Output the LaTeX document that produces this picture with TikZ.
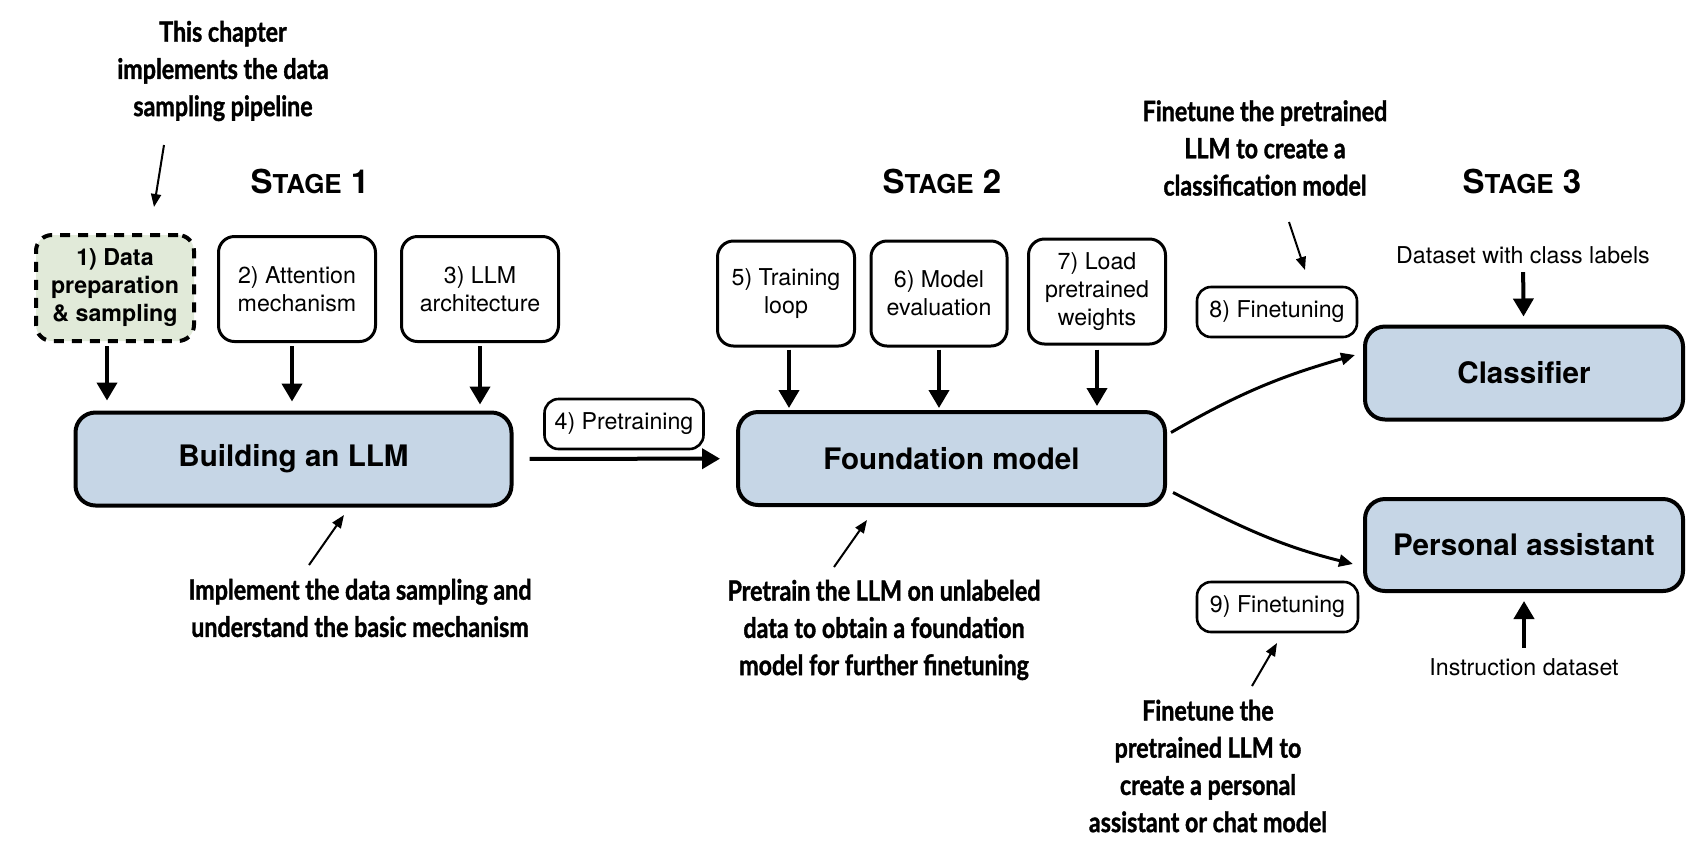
\documentclass[tikz,border=0pt]{standalone}
\usepackage{fontspec}
\setmainfont{TeX Gyre Heros}
\newfontfamily\notefont[FakeStretch=0.83,FakeBold=1.3]{Lato}
\usetikzlibrary{arrows.meta}

\definecolor{llmblue}{RGB}{198,214,230}
\definecolor{prepgreen}{RGB}{225,234,217}

\newcommand{\stagelabel}[1]{S{\fontsize{13}{20}\selectfont TAGE} #1}

\tikzset{
    inbox/.style={draw=black, line width=1.5pt, rounded corners=8pt, fill=white, align=center,
        inner sep=0pt, minimum width=78.5pt, minimum height=52.5pt, font=\fontsize{11.6}{14}\selectfont},
    prepbox/.style={inbox, fill=prepgreen, line width=2pt, dash pattern=on 5pt off 4pt,
        font=\fontsize{11.6}{14}\selectfont\bfseries},
    llmbox/.style={draw=black, line width=2pt, rounded corners=10pt, fill=llmblue,
        inner sep=0pt, minimum height=46.5pt, font=\fontsize{14.8}{18}\selectfont\bfseries},
    tagbox/.style={draw=black, line width=1.3pt, rounded corners=7pt, fill=white, inner sep=0pt,
        minimum width=79.5pt, minimum height=25pt, font=\fontsize{11.6}{14}\selectfont},
    notetext/.style={align=center, inner sep=0pt, font=\notefont\bfseries\fontsize{14}{18.6}\selectfont},
    plaintext/.style={inner sep=0pt, font=\fontsize{11.6}{14}\selectfont},
    stagetext/.style={inner sep=0pt, font=\fontsize{16.5}{20}\selectfont\bfseries},
    bigarrow/.style={line width=2pt, -{Triangle[width=10pt,length=9pt]}},
    curvearrow/.style={line width=1.5pt, -{Triangle[width=6pt,length=7pt]}},
    notearrow/.style={line width=1pt, -{Triangle[width=5pt,length=6.5pt]}}
}

\begin{document}
\begin{tikzpicture}[x=0.5pt,y=-0.5pt]
    \useasboundingbox (0,0) rectangle (1708,864);

    \node[stagetext] (stageA) at (310,181) {\stagelabel{1}};
    \node[stagetext] (stageB) at (942,181) {\stagelabel{2}};
    \node[stagetext] (stageC) at (1522,181) {\stagelabel{3}};

    \node[prepbox, minimum width=79pt, minimum height=53pt] (prep) at (115,288) {1) Data\\preparation\\\& sampling};
    \node[inbox] (attn) at (297,289) {2) Attention\\mechanism};
    \node[inbox] (arch) at (480,289) {3) LLM\\architecture};
    \node[inbox, minimum width=68.5pt] (loop) at (786,293.5) {5) Training\\loop};
    \node[inbox, minimum width=68pt] (eval) at (939,293.5) {6) Model\\evaluation};
    \node[inbox, minimum width=68.5pt] (load) at (1097,291.5) {7) Load\\pretrained\\weights};

    \node[llmbox, minimum width=218pt] (build) at (293.5,459) {Building an LLM};
    \node[llmbox, minimum width=213.5pt] (found) at (951.5,458.5) {Foundation model};
    \node[llmbox, minimum width=159pt] (classify) at (1524,373) {Classifier};
    \node[llmbox, minimum width=159pt, minimum height=46pt] (assist) at (1524,545) {Personal assistant};

    \node[tagbox] (pretrain) at (624,424) {4) Pretraining};
    \node[tagbox, minimum width=80pt] (tuneA) at (1277,312) {8) Finetuning};
    \node[tagbox, minimum width=80.5pt] (tuneB) at (1277.5,607) {9) Finetuning};

    \node[plaintext] (labels) at (1523,255) {Dataset with class labels};
    \node[plaintext] (instruct) at (1524,667) {Instruction dataset};

    \node[notetext] (chapnote) at (223,71) {This chapter\\implements the data\\sampling pipeline};
    \node[notetext] (implnote) at (360,608) {Implement the data sampling and\\understand the basic mechanism};
    \node[notetext] (prenote) at (884,630) {Pretrain the LLM on unlabeled\\data to obtain a foundation\\model for further finetuning};
    \node[notetext] (clsnote) at (1265,148) {Finetune the pretrained\\LLM to create a\\classification model};
    \node[notetext] (chatnote) at (1208,766) {Finetune the\\pretrained LLM to\\create a personal\\assistant or chat model};

    \coordinate (chapfrom) at (164,145);
    \coordinate (chapto) at (154,207);
    \coordinate (implfrom) at (309,565);
    \coordinate (implto) at (344,515);
    \coordinate (prefrom) at (834,567);
    \coordinate (preto) at (867,520);
    \coordinate (clsfrom) at (1289,222);
    \coordinate (clsto) at (1305,270);
    \coordinate (chatfrom) at (1252,686);
    \coordinate (chatto) at (1277,643);

    \draw[bigarrow, shorten <=1.5pt, shorten >=5pt] ([xshift=-4pt]prep.south) -- ([xshift=-4pt]prep.south |- build.north);
    \draw[bigarrow, shorten <=1.5pt, shorten >=4.5pt] ([xshift=-2.5pt]attn.south) -- ([xshift=-2.5pt]attn.south |- build.north);
    \draw[bigarrow, shorten <=1.5pt, shorten >=3pt] (arch.south) -- (arch.south |- build.north);
    \draw[bigarrow, shorten <=1pt, shorten >=1pt] ([xshift=1.5pt]loop.south) -- ([xshift=1.5pt]loop.south |- found.north);
    \draw[bigarrow, shorten <=1pt, shorten >=1pt] (eval.south) -- (eval.south |- found.north);
    \draw[bigarrow, shorten <=2pt, shorten >=2pt] (load.south) -- (load.south |- found.north);
    \draw[bigarrow, shorten <=8pt, shorten >=8pt] (build) -- (found);
    \draw[bigarrow, shorten <=4pt, shorten >=4pt] (labels) -- (classify);
    \draw[bigarrow, shorten <=5pt, shorten >=4pt] (instruct) -- (assist);

    \draw[curvearrow] ([xshift=2pt,yshift=13pt]found.east) to[out=30,in=196] ([xshift=-4pt,yshift=9pt]classify.west);
    \draw[curvearrow] ([xshift=3pt,yshift=-17pt]found.east) to[out=-27,in=166] ([xshift=-5pt,yshift=-9.5pt]assist.west);

    \draw[notearrow] (chapfrom) -- (chapto);
    \draw[notearrow] (implfrom) -- (implto);
    \draw[notearrow] (prefrom) -- (preto);
    \draw[notearrow] (clsfrom) -- (clsto);
    \draw[notearrow] (chatfrom) -- (chatto);
\end{tikzpicture}
\end{document}
